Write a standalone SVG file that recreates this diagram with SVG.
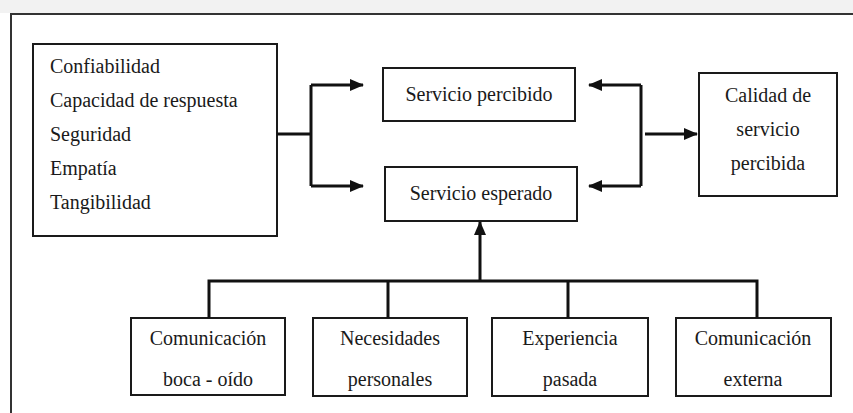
<svg xmlns="http://www.w3.org/2000/svg" width="853" height="413" viewBox="0 0 853 413">
<defs>
<style>
.box{fill:#fff;stroke:#1a1a1a;stroke-width:2}
.t{font-family:"Liberation Serif","Times New Roman",serif;font-size:20px;fill:#1a1a1a}
.c{text-anchor:middle}
.ln{fill:none;stroke:#111;stroke-width:3}
</style>
<marker id="ah" markerWidth="14" markerHeight="12" refX="13" refY="6" orient="auto" markerUnits="userSpaceOnUse">
<path d="M0,0 L14,6 L0,12 z" fill="#111"/>
</marker>
</defs>
<rect x="0" y="0" width="853" height="413" fill="#fff"/>
<rect x="0" y="0" width="853" height="13" fill="#f2f2f2"/>
<path d="M11,413 V14 H853" fill="none" stroke="#333" stroke-width="2"/>

<g id="dimensiones">
<rect class="box" x="33" y="44" width="244" height="192"/>
<text class="t" x="50" y="73">Confiabilidad</text>
<text class="t" x="50" y="107">Capacidad de respuesta</text>
<text class="t" x="50" y="141">Seguridad</text>
<text class="t" x="50" y="175">Empatía</text>
<text class="t" x="50" y="209">Tangibilidad</text>
</g>
<g id="servicio-percibido">
<rect class="box" x="383" y="68" width="192" height="53"/>
<text class="t c" x="479" y="101">Servicio percibido</text>
</g>
<g id="servicio-esperado">
<rect class="box" x="385" y="167" width="192" height="54"/>
<text class="t c" x="481" y="200">Servicio esperado</text>
</g>
<g id="calidad">
<rect class="box" x="699" y="73" width="138" height="123"/>
<text class="t c" x="768" y="102">Calidad de</text>
<text class="t c" x="768" y="136">servicio</text>
<text class="t c" x="768" y="170">percibida</text>
</g>
<g id="boca-oido">
<rect class="box" x="131" y="318" width="154" height="77"/>
<text class="t c" x="208" y="345">Comunicación</text>
<text class="t c" x="208" y="386">boca - oído</text>
</g>
<g id="necesidades">
<rect class="box" x="313" y="318" width="154" height="78"/>
<text class="t c" x="390" y="345">Necesidades</text>
<text class="t c" x="390" y="386">personales</text>
</g>
<g id="experiencia">
<rect class="box" x="492" y="318" width="156" height="78"/>
<text class="t c" x="570" y="345">Experiencia</text>
<text class="t c" x="570" y="386">pasada</text>
</g>
<g id="externa">
<rect class="box" x="676" y="318" width="155" height="78"/>
<text class="t c" x="753" y="345">Comunicación</text>
<text class="t c" x="753" y="386">externa</text>
</g>

<g id="connectors">
<path class="ln" d="M277,134 H311"/>
<path class="ln" d="M311,85 V186"/>
<path class="ln" d="M311,85 H363" marker-end="url(#ah)"/>
<path class="ln" d="M311,186 H363" marker-end="url(#ah)"/>
<path class="ln" d="M641,85 V186"/>
<path class="ln" d="M641,85 H589" marker-end="url(#ah)"/>
<path class="ln" d="M641,186 H589" marker-end="url(#ah)"/>
<path class="ln" d="M645,134 H697" marker-end="url(#ah)"/>
<path class="ln" d="M209,318 V281 H757 V318"/>
<path class="ln" d="M388,281 V318"/>
<path class="ln" d="M568,281 V318"/>
<path class="ln" d="M480,281 V222" marker-end="url(#ah)"/>
</g>
</svg>
